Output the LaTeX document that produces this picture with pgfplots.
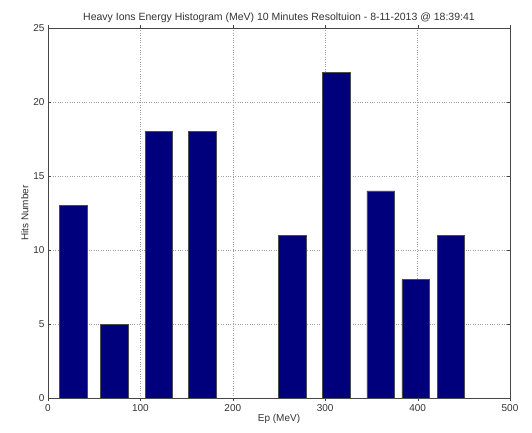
\documentclass[border=0pt]{standalone}
\usepackage{pgfplots}
\pgfplotsset{compat=1.18}
\usepackage{fontspec}
\setmainfont{Liberation Sans}
\definecolor{barnavy}{RGB}{0,0,125}
\begin{document}
\begin{tikzpicture}[x=1pt,y=1pt]
\path[use as bounding box] (-48,-34) rectangle (484,398);
\begin{axis}[
  at={(0,0)}, anchor=south west,
  scale only axis, width=462pt, height=370pt,
  xmin=0, xmax=500, ymin=0, ymax=25,
  xtick={0,100,...,500}, ytick={0,5,...,25},
  tick align=inside, tick pos=both,
  major tick length=3pt,
  grid=major,
  major grid style={dotted, gray!75, line width=0.6pt},
  axis line style={gray!55!black, line width=0.7pt},
  tick style={gray!55!black},
  /pgf/number format/assume math mode=true,
  tick label style={font=\fontsize{10}{12}\selectfont, text=black!80},
  label style={font=\fontsize{10}{12}\selectfont, text=black!80},
  title style={font=\fontsize{10.5}{12.5}\selectfont, text=black!80, yshift=-4pt},
  title={Heavy Ions Energy Histogram (MeV) 10 Minutes Resoltuion - 8-11-2013 @ 18:39:41},
  xlabel={Ep (MeV)}, ylabel={Hits Number},
  xlabel style={yshift=4pt},
  ylabel style={yshift=-2pt},
  ybar, bar width=30, bar shift=0pt,
]
\addplot[fill=barnavy, draw=black!70, line width=0.5pt] coordinates {
(27,13) (72,5) (120,18) (167,18) (264,11) (312,22) (360,14) (398,8) (436,11)
};
\end{axis}
\end{tikzpicture}
\end{document}
